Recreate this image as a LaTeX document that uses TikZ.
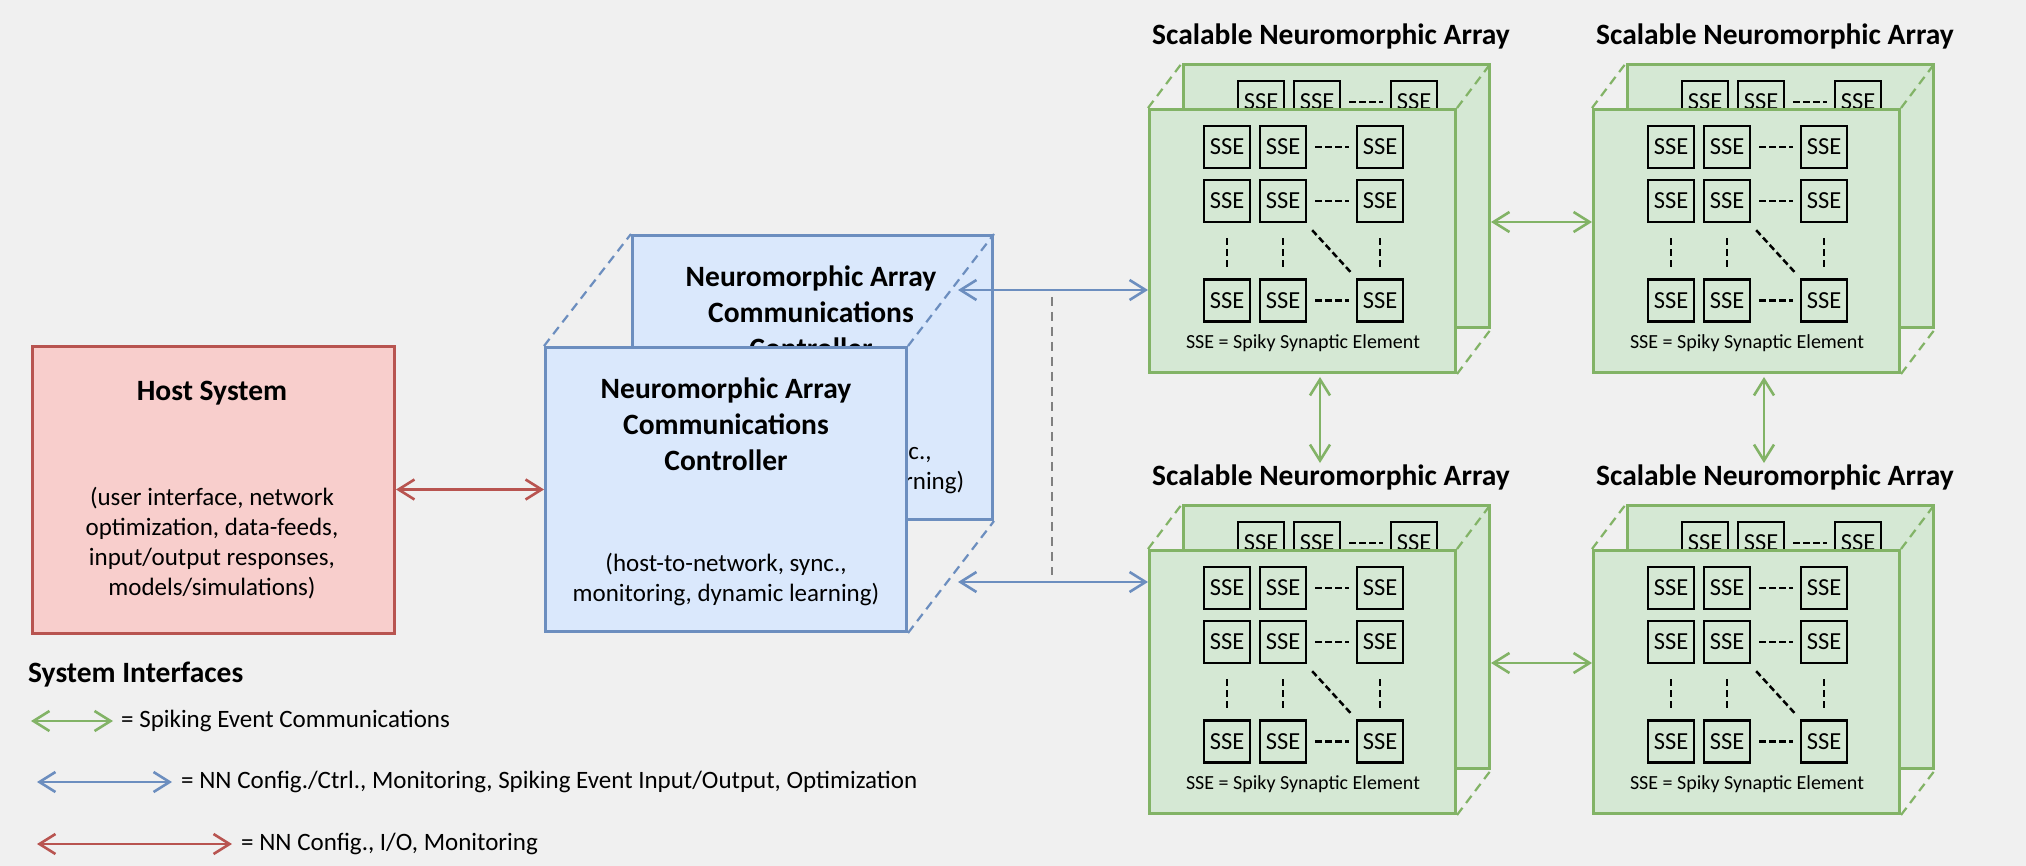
\documentclass[tikz,border=0pt]{standalone}
\usepackage{fontspec}
\setmainfont{Carlito}
\usetikzlibrary{arrows.meta}
\definecolor{bg}{HTML}{F0F0F0}
\definecolor{gfill}{HTML}{D5E8D4}
\definecolor{gline}{HTML}{82B366}
\definecolor{bfill}{HTML}{DAE8FC}
\definecolor{bline}{HTML}{6C8EBF}
\definecolor{rfill}{HTML}{F8CECC}
\definecolor{rline}{HTML}{B85450}
\definecolor{grayd}{HTML}{808080}
\tikzset{
  box/.style={draw, line width=3pt, inner sep=0pt, anchor=north west},
  gbox/.style={box, draw=gline, fill=gfill, minimum width=306pt, minimum height=263pt},
  sse/.style={draw=black, line width=2.4pt, fill=gfill, inner sep=0pt, minimum width=46pt, minimum height=42pt, font=\fontsize{24.5}{28}\selectfont},
  ttl/.style={font=\bfseries\fontsize{29.5}{36}\selectfont, align=center, inner sep=0pt},
  bodytxt/.style={font=\fontsize{25}{30}\selectfont, align=center, inner sep=0pt},
  capt/.style={font=\fontsize{20}{24}\selectfont, inner sep=0pt},
  legtxt/.style={font=\fontsize{25}{30}\selectfont, inner sep=0pt, anchor=west},
  ellip/.style={draw=black, line width=2.5pt, dash pattern=on 6.5pt off 3.5pt},
  vellip/.style={draw=black, line width=2.5pt, dash pattern=on 7pt off 4pt},
  diag/.style={line width=2.2pt, dash pattern=on 9pt off 6pt},
  dblarrow/.style={line width=2.6pt, {Straight Barb[length=16pt,width=20pt]}-{Straight Barb[length=16pt,width=20pt]}},
}
\newcommand\snarray[3]{%
\begin{scope}[shift={(#2,#3)}]
  \node[gbox] (#1b) at (34,-45) {};
  \foreach \cx/\c in {79/1,135/2,232/3}{
    \node[sse] (#1b1\c) at (34+\cx,-45+39) {SSE};
  }
  \draw[ellip] ([xshift=8pt]#1b12.east) -- ([xshift=-7pt]#1b13.west);
  \node[gbox] (#1f) at (0,0) {};
  \draw[diag, gline] (#1f.north west) -- (#1b.north west);
  \draw[diag, gline] (#1f.north east) -- (#1b.north east);
  \draw[diag, gline] (#1f.south east) -- (#1b.south east);
  \foreach \cx/\c in {79/1,135/2,232/3}{
    \foreach \ry/\r in {39/1,93/2,192.5/3}{
      \node[sse] (#1f\r\c) at (\cx,\ry) {SSE};
    }
  }
  \foreach \r in {1,2,3}{
    \draw[ellip] ([xshift=8pt]#1f\r2.east) -- ([xshift=-7pt]#1f\r3.west);
  }
  \foreach \c in {1,2,3}{
    \draw[vellip] ([yshift=-15pt]#1f2\c.south) -- ([yshift=9pt]#1f3\c.north);
  }
  \draw[ellip] ([shift={(5pt,-7pt)}]#1f22.south east) -- ([shift={(-5pt,6pt)}]#1f33.north west);
  \node[capt] (#1cap) at (155,235) {SSE = Spiky Synaptic Element};
  \node[ttl] (#1t) at (183,-72) {Scalable Neuromorphic Array};
\end{scope}}
\begin{document}
\begin{tikzpicture}[x=1pt, y=-1pt]
\fill[bg] (0,0) rectangle (2026,866);
\useasboundingbox (0,0) rectangle (2026,866);

% Host system
\node[box, draw=rline, fill=rfill, minimum width=362pt, minimum height=287pt] (host) at (31,345) {};
\node[ttl] (hostt) at (212,393) {Host System};
\node[bodytxt] (hostb) at (212,543) {(user interface, network\\optimization, data-feeds,\\input/output responses,\\models/simulations)};

% Controller (back)
\node[box, draw=bline, fill=bfill, minimum width=360pt, minimum height=284pt] (ctrlb) at (631,234) {};
\node[ttl] (ctrlbt) at (811,312) {Neuromorphic Array\\Communications\\Controller};
\node[bodytxt] (ctrlbb) at (811,468) {(host-to-network, sync.,\\monitoring, dynamic learning)};
% Controller (front)
\node[box, draw=bline, fill=bfill, minimum width=361pt, minimum height=284pt] (ctrlf) at (544,346) {};
\draw[diag, bline] (ctrlf.north west) -- (ctrlb.north west);
\draw[diag, bline] (ctrlf.north east) -- (ctrlb.north east);
\draw[diag, bline] (ctrlf.south east) -- (ctrlb.south east);
\node[ttl] (ctrlft) at (726,424) {Neuromorphic Array\\Communications\\Controller};
\node[bodytxt] (ctrlfb) at (726,580) {(host-to-network, sync.,\\monitoring, dynamic learning)};

% Arrays
\snarray{TL}{1148}{108}
\snarray{TR}{1592}{108}
\snarray{BL}{1148}{549}
\snarray{BR}{1592}{549}

% Connectors
\draw[dblarrow, rline] (host.east |- ctrlf.west) -- (ctrlf.west);
\coordinate (bt) at (958,290);
\coordinate (bb) at (958,582);
\draw[dblarrow, bline] (bt) -- (TLf.west |- bt);
\draw[dblarrow, bline] (bb) -- (BLf.west |- bb);
\coordinate (gd1) at (1052,297);
\coordinate (gd2) at (1052,575);
\draw[grayd, line width=2.2pt, dash pattern=on 9pt off 6pt] (gd1) -- (gd2);
\coordinate (gh1) at (0,222);
\coordinate (gh2) at (0,663);
\draw[dblarrow, gline] (TLb.east |- gh1) -- (TRf.west |- gh1);
\draw[dblarrow, gline] (BLb.east |- gh2) -- (BRf.west |- gh2);
\coordinate (gv1a) at (1320,377);
\coordinate (gv1b) at (1320,463);
\coordinate (gv2a) at (1764,377);
\coordinate (gv2b) at (1764,463);
\draw[dblarrow, gline] (gv1a) -- (gv1b);
\draw[dblarrow, gline] (gv2a) -- (gv2b);

% Legend
\node[ttl, anchor=west] (legt) at (28,675) {System Interfaces};
\coordinate (lg1) at (31,721); \coordinate (lg2) at (113,721);
\coordinate (lb1) at (37,782); \coordinate (lb2) at (172,782);
\coordinate (lr1) at (37,844); \coordinate (lr2) at (232,844);
\draw[dblarrow, gline] (lg1) -- (lg2);
\draw[dblarrow, bline] (lb1) -- (lb2);
\draw[dblarrow, rline] (lr1) -- (lr2);
\node[legtxt] (lgt) at (121,721) {= Spiking Event Communications};
\node[legtxt] (lbt) at (181,782) {= NN Config./Ctrl., Monitoring, Spiking Event Input/Output, Optimization};
\node[legtxt] (lrt) at (241,844) {= NN Config., I/O, Monitoring};
\end{tikzpicture}
\end{document}
